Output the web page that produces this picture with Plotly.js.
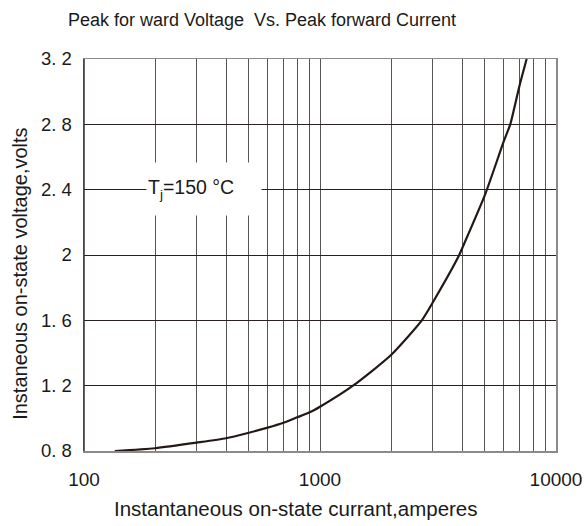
<!DOCTYPE html>
<html>
<head>
<meta charset="utf-8">
<script src="https://cdn.plot.ly/plotly-3.0.1.min.js"></script>
<style>html,body{margin:0;padding:0;background:#fff;}#chart{width:588px;height:526px;}</style>
</head>
<body>
<div id="chart"></div>
<script>
// Data
const currentA = [135, 200, 300, 400, 500, 600, 700, 800, 900, 1000, 1380, 2000, 2700, 3000, 3890, 4000, 5000, 6000, 6400, 7000, 7510];
const voltageV = [0.80, 0.817, 0.851, 0.878, 0.912, 0.943, 0.973, 1.006, 1.035, 1.071, 1.2, 1.388, 1.6, 1.708, 2.0, 2.04, 2.368, 2.694, 2.8, 3.035, 3.2];

const xTickVals = [100,200,300,400,500,600,700,800,900,1000,2000,3000,4000,5000,6000,7000,8000,9000,10000];
const xTickText = ['100','','','','','','','','','1000','','','','','','','','','10000'];
const yTickVals = [0.8, 1.2, 1.6, 2.0, 2.4, 2.8, 3.2];
const yTickText = ['0. 8','1. 2','1. 6','2','2. 4','2. 8','3. 2'];

const chartTitle = 'Peak for ward Voltage  Vs. Peak forward Current';
const xTitle = 'Instantaneous on-state currant,amperes';
const yTitle = 'Instaneous on-state voltage,volts';
const noteText = 'T<sub>j</sub>=150 °C';
const noteX = 322, noteY = 2.4;

const font = 'Liberation Sans, Arial, sans-serif';

const trace = {
  x: currentA, y: voltageV, type: 'scatter', mode: 'lines',
  line: {color: '#231815', width: 2.2, shape: 'spline', smoothing: 0.6},
  hoverinfo: 'skip'
};

const layout = {
  width: 588, height: 526,
  margin: {l: 84, r: 32, t: 59, b: 75},
  paper_bgcolor: '#fff', plot_bgcolor: '#fff',
  showlegend: false,
  font: {family: font, color: '#1a1a1a'},
  title: {text: chartTitle, x: 0.4456, xref: 'container', xanchor: 'center',
          y: 1 - 20/526, yref: 'container', yanchor: 'middle',
          font: {family: font, size: 18, color: '#1a1a1a'}},
  xaxis: {
    type: 'log', range: [2, 4],
    tickvals: xTickVals, ticktext: xTickText,
    showgrid: true, gridcolor: '#555', gridwidth: 1,
    ticks: '', ticklabelstandoff: 11,
    tickfont: {family: font, size: 19, color: '#1a1a1a'},
    showline: true, linecolor: '#8a8a8a', linewidth: 1.5, mirror: true,
    zeroline: false, fixedrange: true
  },
  yaxis: {
    range: [0.8, 3.2],
    tickvals: yTickVals, ticktext: yTickText,
    showgrid: true, gridcolor: '#2b2020', gridwidth: 1,
    ticks: '', ticklabelstandoff: 7,
    tickfont: {family: font, size: 18.5, color: '#1a1a1a'},
    showline: true, linecolor: '#8a8a8a', linewidth: 1.5, mirror: true,
    zeroline: false, fixedrange: true
  },
  shapes: [
    {type: 'line', xref: 'paper', yref: 'paper', x0: 0, x1: 0, y0: 0, y1: 1,
     line: {color: '#3a2e2e', width: 1.5}}
  ],
  annotations: [
    {text: noteText, x: Math.log10(noteX), y: noteY, xref: 'x', yref: 'y',
     showarrow: false, bgcolor: '#fff', width: 112, height: 50, align: 'left',
     xanchor: 'center', yanchor: 'middle', yshift: 1,
     font: {family: font, size: 19.5, color: '#1a1a1a'}},
    {text: xTitle, x: 0.449, y: -0.1455, xref: 'paper', yref: 'paper',
     showarrow: false, xanchor: 'center', yanchor: 'middle',
     font: {family: font, size: 20.5, color: '#1a1a1a'}},
    {text: yTitle, x: -0.1356, y: 0.452, xref: 'paper', yref: 'paper',
     showarrow: false, textangle: -90, xanchor: 'center', yanchor: 'middle',
     font: {family: font, size: 20, color: '#1a1a1a'}}
  ]
};

Plotly.newPlot('chart', [trace], layout, {displayModeBar: false, staticPlot: true});
</script>
</body>
</html>
